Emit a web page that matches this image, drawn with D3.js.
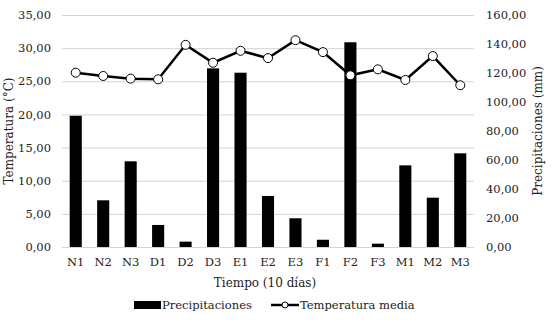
<!DOCTYPE html>
<html>
<head>
<meta charset="utf-8">
<script src="https://cdn.jsdelivr.net/npm/d3@7"></script>
<style>
  body { margin: 0; background: #fff; }
  svg text { font-family: "DejaVu Serif", serif; fill: #222; }
</style>
</head>
<body>
<div id="chart"></div>
<script>
// decades of 10 days, Nov -> Mar
const periodos = ["N1", "N2", "N3", "D1", "D2", "D3", "E1", "E2", "E3", "F1", "F2", "F3", "M1", "M2", "M3"];
const precipitaciones = [90.5, 32.2, 59.1, 15.2, 3.7, 123.2, 120.2, 35.2, 19.8, 5.0, 141.2, 2.3, 56.3, 34.0, 64.6];
const temperatura = [26.3, 25.8, 25.4, 25.3, 30.5, 27.8, 29.6, 28.5, 31.2, 29.4, 25.9, 26.8, 25.2, 28.8, 24.4];
const tempTicks = [0, 5, 10, 15, 20, 25, 30, 35];
const precTicks = [0, 20, 40, 60, 80, 100, 120, 140, 160];

const width = 557, height = 323;
const margin = {top: 15, right: 83, bottom: 76, left: 62};

const fmt = d => d3.format(".2f")(d).replace(".", ",");

const svg = d3.select("#chart").append("svg")
    .attr("width", width)
    .attr("height", height)
    .attr("viewBox", [0, 0, width, height]);

const x = d3.scaleBand()
    .domain(periodos)
    .range([margin.left, width - margin.right])
    .paddingInner(0.56)
    .paddingOuter(0.28);

const yT = d3.scaleLinear().domain([0, 35]).range([height - margin.bottom, margin.top]);
const yP = d3.scaleLinear().domain([0, 160]).range([height - margin.bottom, margin.top]);

// gridlines
svg.append("g")
    .selectAll("line")
    .data(tempTicks)
    .join("line")
    .attr("x1", margin.left)
    .attr("x2", width - margin.right)
    .attr("y1", d => yT(d) + 0.5)
    .attr("y2", d => yT(d) + 0.5)
    .attr("stroke", "#d4d4d4")
    .attr("stroke-width", 1);

// left axis
svg.append("g")
    .attr("transform", `translate(${margin.left - 8},0)`)
    .call(d3.axisLeft(yT).tickValues(tempTicks).tickFormat(fmt).tickSize(0))
    .call(g => g.select(".domain").remove())
    .call(g => g.selectAll("text").attr("font-size", 11.5).attr("font-family", "DejaVu Serif"));

// right axis
svg.append("g")
    .attr("transform", `translate(${width - margin.right + 9},0)`)
    .call(d3.axisRight(yP).tickValues(precTicks).tickFormat(fmt).tickSize(0))
    .call(g => g.select(".domain").remove())
    .call(g => g.selectAll("text").attr("font-size", 11.5).attr("font-family", "DejaVu Serif"));

// bottom axis
svg.append("g")
    .attr("transform", `translate(0,${height - margin.bottom + 8})`)
    .call(d3.axisBottom(x).tickSize(0))
    .call(g => g.select(".domain").remove())
    .call(g => g.selectAll("text").attr("font-size", 11.5).attr("font-family", "DejaVu Serif"));

// bars
svg.append("g")
    .selectAll("rect")
    .data(periodos)
    .join("rect")
    .attr("x", d => x(d))
    .attr("width", x.bandwidth())
    .attr("y", (d, i) => yP(precipitaciones[i]))
    .attr("height", (d, i) => yP(0) - yP(precipitaciones[i]))
    .attr("fill", "#000");

// temperature line
const line = d3.line()
    .x((d, i) => x(periodos[i]) + x.bandwidth() / 2)
    .y(d => yT(d));

svg.append("path")
    .datum(temperatura)
    .attr("d", line)
    .attr("fill", "none")
    .attr("stroke", "#000")
    .attr("stroke-width", 2.5);

svg.append("g")
    .selectAll("circle")
    .data(temperatura)
    .join("circle")
    .attr("cx", (d, i) => x(periodos[i]) + x.bandwidth() / 2)
    .attr("cy", d => yT(d))
    .attr("r", 4.5)
    .attr("fill", "#fff")
    .attr("stroke", "#000")
    .attr("stroke-width", 1);

// axis titles
svg.append("text")
    .attr("transform", `translate(13,${(margin.top + height - margin.bottom) / 2}) rotate(-90)`)
    .attr("text-anchor", "middle")
    .attr("font-size", 12)
    .text("Temperatura (°C)");

svg.append("text")
    .attr("transform", `translate(542,${(margin.top + height - margin.bottom) / 2}) rotate(-90)`)
    .attr("text-anchor", "middle")
    .attr("font-size", 12)
    .text("Precipitaciones (mm)");

svg.append("text")
    .attr("x", 265)
    .attr("y", 287)
    .attr("text-anchor", "middle")
    .attr("font-size", 12)
    .text("Tiempo (10 días)");

// legend
const lg = svg.append("g").attr("transform", "translate(0,305)");
lg.append("rect")
    .attr("x", 134).attr("y", -4).attr("width", 27).attr("height", 8)
    .attr("fill", "#000");
lg.append("text")
    .attr("x", 162).attr("y", 4)
    .attr("font-size", 11.5)
    .text("Precipitaciones");
lg.append("line")
    .attr("x1", 271).attr("x2", 299).attr("y1", 0).attr("y2", 0)
    .attr("stroke", "#000").attr("stroke-width", 2.5);
lg.append("circle")
    .attr("cx", 285).attr("cy", 0).attr("r", 3)
    .attr("fill", "#fff").attr("stroke", "#000");
lg.append("text")
    .attr("x", 300).attr("y", 4)
    .attr("font-size", 11.5)
    .text("Temperatura media");
</script>
</body>
</html>
